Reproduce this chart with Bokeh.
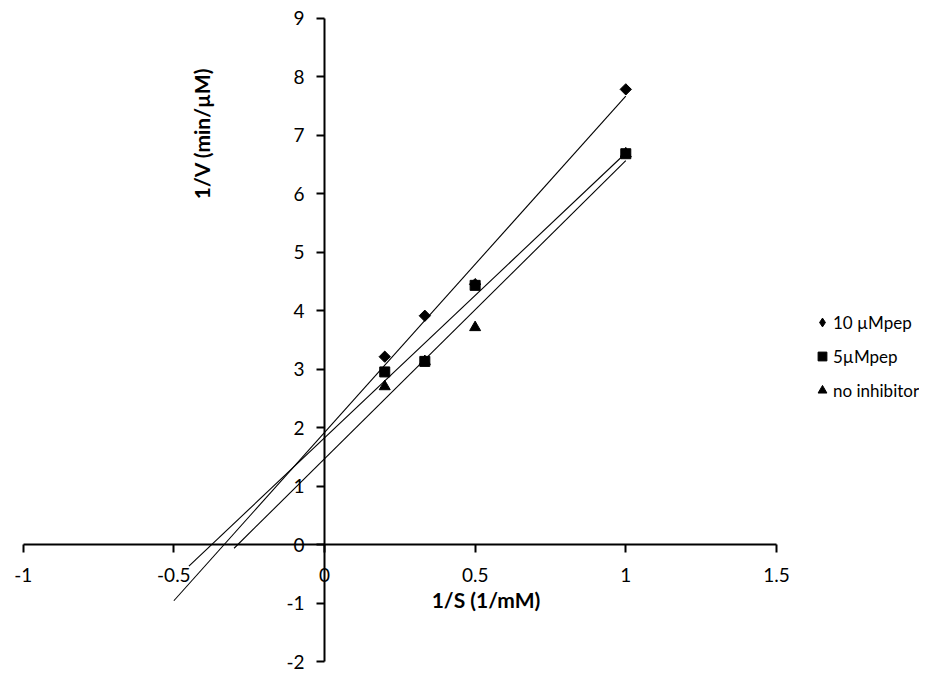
import numpy as np
from bokeh.plotting import figure
from bokeh.models import Range1d, FixedTicker, Label, Legend, LegendItem
from bokeh.embed import file_html
from bokeh.resources import INLINE

# ---- data ----
inv_s = [0.2, 0.333, 0.5, 1.0]                 # 1/S (1/mM)
v_10uM = [3.21, 3.91, 4.45, 7.78]              # 10 µMpep
v_5uM = [2.95, 3.13, 4.43, 6.68]               # 5µMpep
v_none = [2.70, 3.13, 3.71, 6.68]              # no inhibitor
series_names = ["10 µMpep", "5µMpep", "no inhibitor"]
trend_x_start = [-0.5, -0.45, -0.3]            # trendlines forecast backward
trend_x_end = [1.0, 1.0, 1.0]

x_ticks = [-1, -0.5, 0, 0.5, 1, 1.5]
x_tick_labels = ["-1", "-0.5", "0", "0.5", "1", "1.5"]
y_ticks = [-2, -1, 0, 1, 2, 3, 4, 5, 6, 7, 8, 9]
y_tick_labels = ["-2", "-1", "0", "1", "2", "3", "4", "5", "6", "7", "8", "9"]

FONT = "Lato"
W, H = 919, 675

p = figure(width=W, height=H, output_backend="svg", toolbar_location=None,
           x_range=Range1d(-1.0753, 1.9748),
           y_range=Range1d(544 / 58.5 - H / 58.5, 544 / 58.5),
           min_border=0, min_border_left=0, min_border_right=0,
           min_border_top=0, min_border_bottom=0)
p.outline_line_color = None
p.grid.visible = False
p.background_fill_color = "white"
p.border_fill_color = "white"

# axes crossing at the origin
for ax, ticks, labels, bnds in ((p.xaxis[0], x_ticks, x_tick_labels, (-1, 1.5)),
                                (p.yaxis[0], y_ticks, y_tick_labels, (-2, 9))):
    ax.fixed_location = 0
    ax.bounds = bnds
    ax.ticker = FixedTicker(ticks=ticks, minor_ticks=[])
    ax.major_label_overrides = {t: l for t, l in zip(ticks, labels)}
    ax.axis_line_color = "black"
    ax.axis_line_width = 2
    ax.major_tick_line_color = "black"
    ax.major_tick_line_width = 2
    ax.major_tick_in = 0
    ax.major_tick_out = 8
    ax.minor_tick_line_color = None
    ax.major_label_text_font = FONT
    ax.major_label_text_font_size = "19px"
    ax.major_label_text_color = "black"
p.xaxis[0].major_label_standoff = 15
p.yaxis[0].major_label_standoff = 12

markers = ["square", "square", "triangle"]
legend_markers = ["diamond", "square", "triangle"]
angles = [np.pi / 4, 0, 0]
sizes = [8, 10, 11]
ys = [v_10uM, v_5uM, v_none]
items = []
for name, y, mk, lmk, ang, sz, xs0, xs1 in zip(series_names, ys, markers, legend_markers,
                                              angles, sizes, trend_x_start, trend_x_end):
    slope, icpt = np.polyfit(inv_s, y, 1)
    lx = [xs0, xs1]
    p.line(lx, [slope * xx + icpt for xx in lx], line_color="black", line_width=1.1)
    p.scatter(inv_s, y, marker=mk, angle=ang, size=sz,
              fill_color="black", line_color="black")
    # legend swatch renderer (undrawn NaN point, only its marker style is used)
    proxy = p.scatter(x=[np.nan], y=[np.nan], marker=lmk, size=sz,
                      fill_color="black", line_color="black")
    items.append(LegendItem(label=name, renderers=[proxy]))

H0 = 667
legend = Legend(items=items, location=(811, 266 + (H - H0)), orientation="vertical",
                glyph_width=22, glyph_height=22, label_height=22, spacing=12,
                label_standoff=0, padding=0, margin=0,
                border_line_color=None, background_fill_alpha=0,
                label_text_font=FONT, label_text_font_size="17px",
                label_text_color="black")
p.add_layout(legend, "center")

p.add_layout(Label(x=485.5, y=H - 599, x_units="screen", y_units="screen",
                   text="1/S (1/mM)", text_font=FONT, text_font_size="21px",
                   text_font_style="bold", text_align="center", text_baseline="middle",
                   text_color="black"))
p.add_layout(Label(x=201, y=H - 133, x_units="screen", y_units="screen",
                   text="1/V (min/µM)", text_font=FONT, text_font_size="21px",
                   text_font_style="bold", text_align="center", text_baseline="middle",
                   angle=np.pi / 2, text_color="black"))

open("out.html", "w").write(file_html(p, INLINE))
